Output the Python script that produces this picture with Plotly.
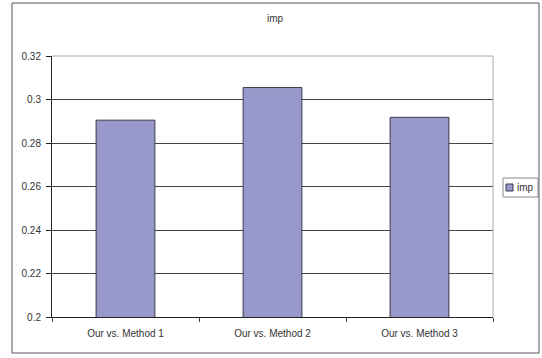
import plotly.graph_objects as go

# Chart data
categories = ["Our vs. Method 1", "Our vs. Method 2", "Our vs. Method 3"]
imp_values = [0.2905, 0.3055, 0.2918]
y_ticks = [0.2, 0.22, 0.24, 0.26, 0.28, 0.3, 0.32]
y_tick_labels = ["0.2", "0.22", "0.24", "0.26", "0.28", "0.3", "0.32"]
series_name = "imp"

W, H = 542, 358
L, R, T, B = 52, 49, 56, 41
pw, ph = W - L - R, H - T - B

def px_x(x):
    return (x - L) / pw

def px_y(y):
    return (H - B - y) / ph

bar_color = "#9898CA"
font = dict(family="Liberation Sans, Arial, sans-serif", size=10, color="#333333")

fig = go.Figure()
fig.add_trace(go.Bar(
    x=categories, y=imp_values, name=series_name,
    marker=dict(color=bar_color, line=dict(color="#3a3a4a", width=1)),
    width=0.4, showlegend=False,
))

shapes = [
    # outer chart frame
    dict(type="rect", xref="paper", yref="paper",
         x0=px_x(12), x1=px_x(539), y0=px_y(353), y1=px_y(3),
         line=dict(color="#555555", width=1), layer="below"),
    # plot area top and right edges
    dict(type="line", xref="paper", yref="paper", x0=0, x1=1, y0=1, y1=1,
         line=dict(color="#aaaaaa", width=1), layer="above"),
    dict(type="line", xref="paper", yref="paper", x0=1, x1=1, y0=0, y1=1,
         line=dict(color="#aaaaaa", width=1), layer="above"),
    # legend box
    dict(type="rect", xref="paper", yref="paper",
         x0=px_x(503), x1=px_x(538), y0=px_y(197), y1=px_y(178),
         line=dict(color="#888888", width=1), fillcolor="white"),
    # legend swatch
    dict(type="rect", xref="paper", yref="paper",
         x0=px_x(506), x1=px_x(513), y0=px_y(191), y1=px_y(184),
         line=dict(color="#3a3a4a", width=1), fillcolor=bar_color),
]

annotations = [
    dict(text=series_name, xref="paper", yref="paper",
         x=px_x(515), y=px_y(187.5), xanchor="left", yanchor="middle",
         showarrow=False, font=font),
]

fig.update_layout(
    width=W, height=H,
    margin=dict(l=L, r=R, t=T, b=B),
    paper_bgcolor="white", plot_bgcolor="white",
    font=font,
    title=dict(text=series_name, x=275 / W, xref="container", xanchor="center",
               y=1 - 18 / H, yref="container", yanchor="middle",
               font=dict(family=font["family"], size=10, color="#333333")),
    shapes=shapes, annotations=annotations,
    bargap=0.6,
)
fig.update_xaxes(
    type="category", showline=True, linecolor="#222222", linewidth=1,
    ticks="outside", tickson="boundaries", ticklen=4, tickcolor="#444444",
    ticklabelstandoff=7,
    showgrid=False, tickfont=font,
)
fig.update_yaxes(
    range=[0.2, 0.32], tickvals=y_ticks, ticktext=y_tick_labels,
    showline=True, linecolor="#222222", linewidth=1,
    ticks="outside", ticklen=5, tickcolor="#222222",
    ticklabelstandoff=3,
    showgrid=True, gridcolor="#444444", gridwidth=1,
    zeroline=False, tickfont=font,
)

fig.write_html("out.html")
